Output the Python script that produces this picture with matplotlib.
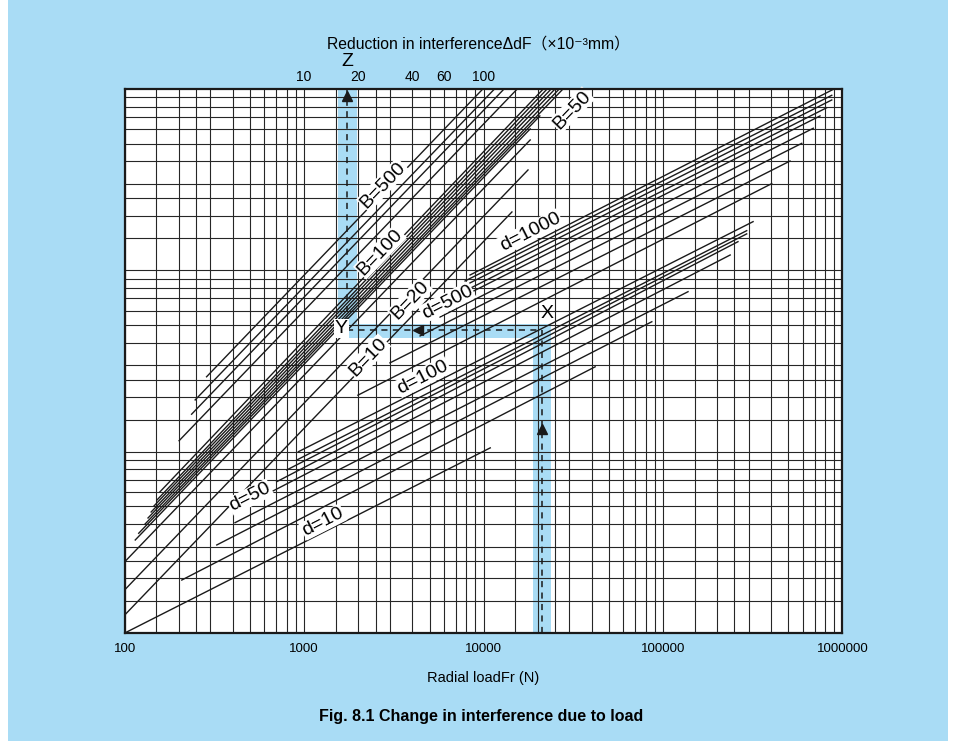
import matplotlib.pyplot as plt
from matplotlib.patches import Rectangle
from matplotlib.ticker import NullFormatter

plt.rcParams['font.family'] = ['Liberation Sans', 'DejaVu Sans', 'Noto Sans CJK JP']

# B family (steep lines): start / end points (Fr, y)
b_fr0 = [286, 247, 236, 201, 157, 151.4, 145.6, 140.4, 134.9, 129.8, 119.7, 114.5, 100, 100, 100]
b_y0 = [25.9, 19.3, 16.1, 11.5, 6.0, 5.42, 5.02, 4.65, 4.31, 3.99, 3.55, 3.26, 2.47, 1.73, 1.257]
b_fr1 = [9900, 11500, 13000, 15400, 21500, 22600, 23800, 25000, 26400, 27700, 20600, 18200, 18200, 17700, 14400]
b_y1 = [1000, 1000, 1000, 1000, 1000, 1000, 1000, 1000, 1000, 1000, 711, 603, 524, 358, 210]

# d family (shallow lines): start / end points (Fr, y)
d_fr0 = [100, 208, 326, 412, 659, 703, 800, 910, 929, 8410, 7890, 7400, 6940, 6500, 5720, 4430, 3010, 1995]
d_y0 = [1.0, 1.96, 3.06, 4.06, 6.02, 6.83, 7.93, 9.0, 10.0, 94.3, 87.4, 80.0, 72.3, 66.1, 55.3, 43.5, 30.9, 20.5]
d_fr1 = [10900, 41900, 86700, 138000, 237000, 262000, 293000, 293000, 318000,
         891000, 873000, 873000, 818000, 751000, 689000, 594000, 511000, 404000]
d_y1 = [10.5, 29.4, 52.1, 76.3, 121.6, 144, 159, 165.6, 185.7, 997, 924, 871, 789, 711, 608, 502, 401, 301]

# curve labels
b_labels = ['B=500', 'B=100', 'B=20', 'B=10', 'B=50']
b_lab_fr = [2750, 2650, 3890, 2270, 31100]
b_lab_y = [296, 126, 68.7, 33.3, 767]
d_labels = ['d=1000', 'd=500', 'd=100', 'd=50', 'd=10']
d_lab_fr = [18200, 6270, 4600, 499, 1274]
d_lab_y = [163, 66.9, 25.8, 5.63, 4.10]

# worked example X -> Y -> Z
fr_x, fr_z, y_xy = 21100, 1728, 46.9

bottom_ticks = [100, 1000, 10000, 100000, 1000000]
top_ticks = [10, 20, 40, 60, 100]
mults = [1, 1.5, 2, 2.5, 3, 4, 5, 6, 7, 8, 9]

blue = '#a9dcf5'
ink = '#1a1a1a'

fig = plt.figure(figsize=(9.57, 7.41), dpi=100)
fig.patch.set_facecolor('white')
fig.patches.append(Rectangle((8 / 957, 0), 940 / 957, 1, transform=fig.transFigure,
                             facecolor=blue, edgecolor='none', zorder=-10))

ax = fig.add_axes([0.1303, 0.1457, 0.7499, 0.7341])
ax.set_xscale('log')
ax.set_yscale('log')
ax.set_xlim(100, 1e6)
ax.set_ylim(1, 1000)
ax.set_facecolor('white')

# grid
xg = [m * 10 ** k for k in range(2, 6) for m in mults]
yg = [m * 10 ** k for k in range(0, 3) for m in mults]
ax.set_xticks(bottom_ticks)
ax.set_xticklabels([str(t) for t in bottom_ticks], fontsize=9.5)
ax.set_xticks(xg, minor=True)
ax.xaxis.set_minor_formatter(NullFormatter())
ax.set_yticks([])
ax.set_yticks(yg, minor=True)
ax.yaxis.set_minor_formatter(NullFormatter())
ax.tick_params(which='both', length=0, pad=7)
ax.grid(True, which='both', color='#262626', lw=0.8)
ax.set_axisbelow(False)
for s in ax.spines.values():
    s.set_linewidth(1.6)
    s.set_color(ink)
    s.set_zorder(6)
ax.set_xlabel('Radial loadFr (N)', fontsize=10.5, labelpad=12)

# highlight bands
ax.add_patch(Rectangle((1551, 42.2), 1963 - 1551, 1000 - 42.2, facecolor=blue, edgecolor='none', zorder=1))
ax.add_patch(Rectangle((1551, 42.2), 23800 - 1551, 50.4 - 42.2, facecolor=blue, edgecolor='none', zorder=1))
ax.add_patch(Rectangle((18750, 1), 23800 - 18750, 50.4 - 1, facecolor=blue, edgecolor='none', zorder=1))

# nomogram lines
for i in range(len(b_fr0)):
    ax.plot([b_fr0[i], b_fr1[i]], [b_y0[i], b_y1[i]], color=ink, lw=1.0, zorder=3)
for i in range(len(d_fr0)):
    ax.plot([d_fr0[i], d_fr1[i]], [d_y0[i], d_y1[i]], color=ink, lw=1.0, zorder=3)

for t, x, y in zip(b_labels, b_lab_fr, b_lab_y):
    ax.text(x, y, t, fontsize=14, rotation=46, ha='center', va='center', rotation_mode='anchor',
            zorder=5, bbox=dict(facecolor='white', edgecolor='none', pad=0.5))
for t, x, y in zip(d_labels, d_lab_fr, d_lab_y):
    ax.text(x, y, t, fontsize=14, rotation=27, ha='center', va='center', rotation_mode='anchor',
            zorder=5, bbox=dict(facecolor='white', edgecolor='none', pad=0.5))

# dashed path of the example
dash = dict(color=ink, lw=1.1, ls=(0, (4, 3.5)), zorder=4)
ax.plot([fr_z, fr_z], [y_xy * 0.94, 1000], **dash)
ax.plot([fr_z, fr_x], [y_xy, y_xy], **dash)
ax.plot([fr_x, fr_x], [1, y_xy], **dash)
ax.plot(fr_z, 916, marker='^', ms=7, color=ink, zorder=5)
ax.plot(4300, y_xy, marker='<', ms=7, color=ink, zorder=5)
ax.plot(fr_x, 13.3, marker='^', ms=7, color=ink, zorder=5)
ax.text(fr_x * 1.07, 58, 'X', fontsize=14, ha='center', va='center', zorder=5)
ax.text(fr_z * 0.935, y_xy * 1.02, 'Y', fontsize=14, ha='center', va='center', zorder=5,
        bbox=dict(facecolor='white', edgecolor='none', pad=0.5))

# top scale (reduction in interference)
sec = ax.secondary_xaxis('top', functions=(lambda v: v / 100, lambda v: v * 100))
sec.set_xticks(top_ticks)
sec.set_xticklabels([str(t) for t in top_ticks], fontsize=10)
sec.xaxis.set_minor_locator(plt.NullLocator())
sec.tick_params(which='both', length=0, pad=3.5)
sec.spines['top'].set_visible(False)

fig.text(478 / 957, 1 - 44 / 741, 'Reduction in interference\u0394dF\uff08\u00d710\u207b\u00b3mm\uff09',
         fontsize=11.3, ha='center', va='center')
fig.text(347 / 957, 1 - 61 / 741, 'Z', fontsize=14, ha='center', va='center')
fig.text(481 / 957, 1 - 717 / 741, 'Fig. 8.1 Change in interference due to load',
         fontsize=11.5, fontweight='bold', ha='center', va='center')

fig.savefig('out.png', dpi=100, facecolor=fig.get_facecolor())
